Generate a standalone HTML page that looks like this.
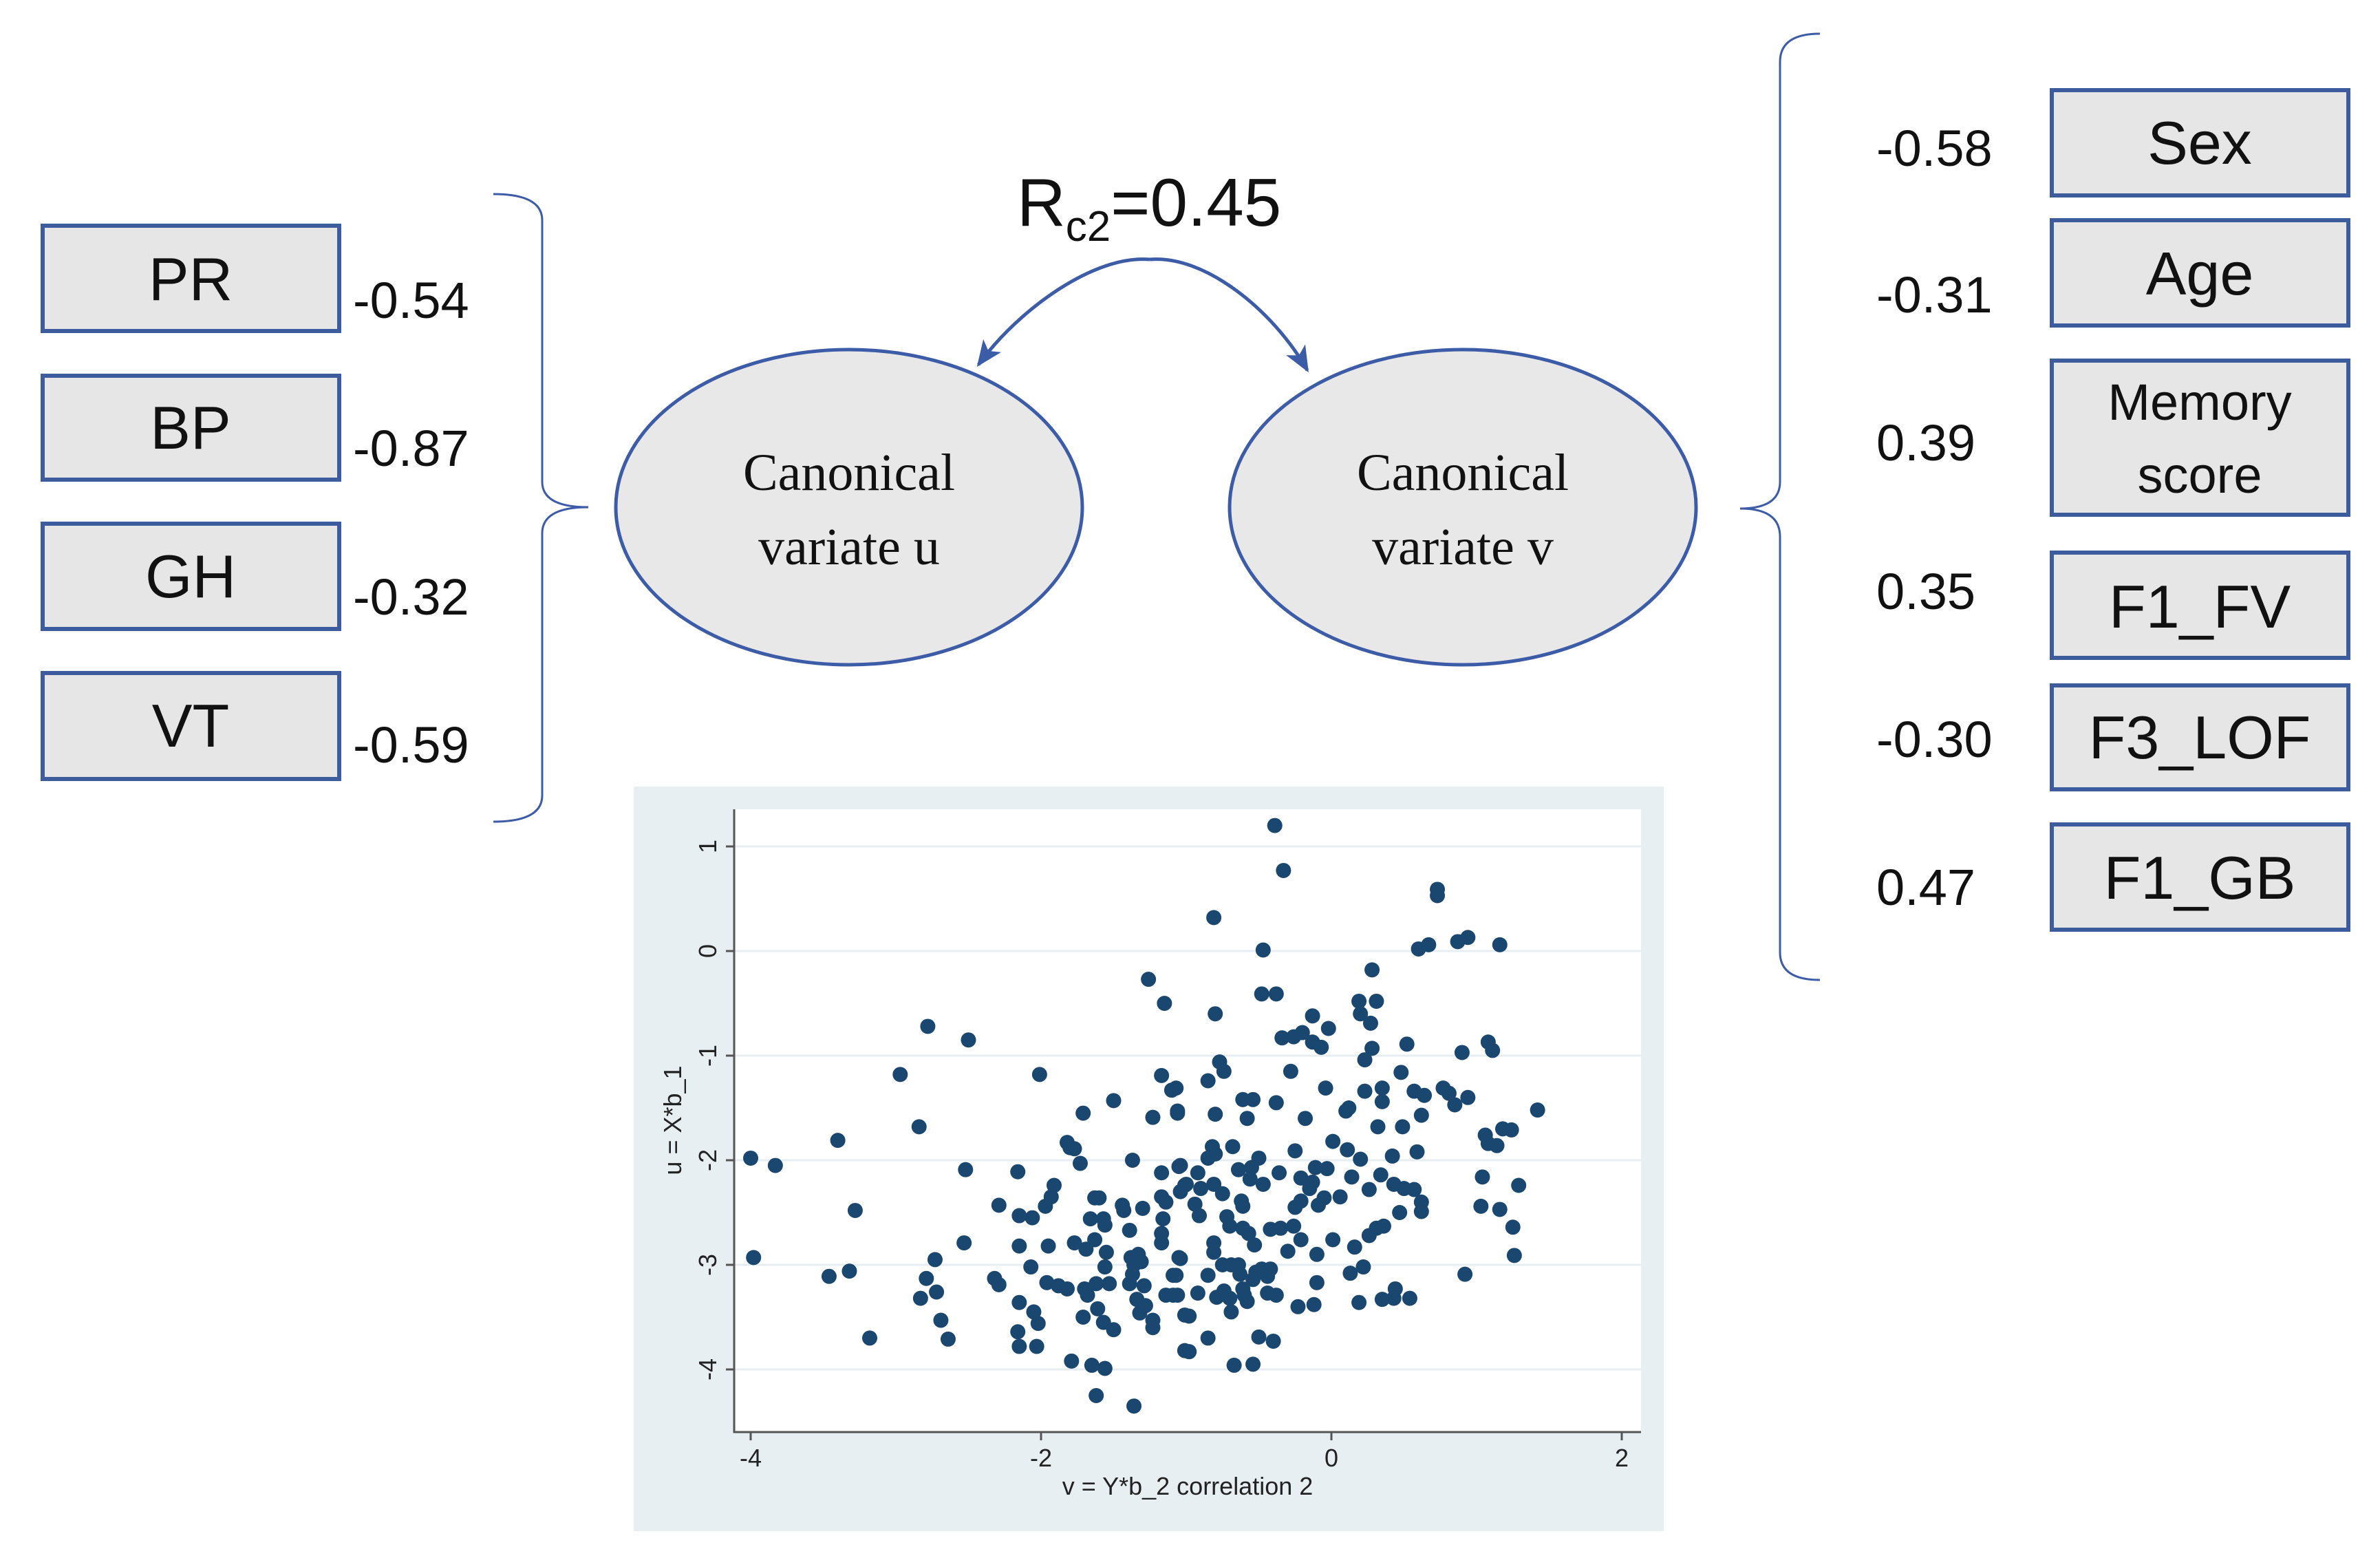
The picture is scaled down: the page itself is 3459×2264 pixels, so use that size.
<!DOCTYPE html>
<html><head><meta charset="utf-8"><style>
html,body{margin:0;padding:0;background:#fff;}
svg{display:block;}
.box{fill:#e6e6e6;stroke:#3d5c9e;stroke-width:6;}
.lbl{font-family:"Liberation Sans",sans-serif;font-size:88px;fill:#111;text-anchor:middle;}
.val{font-family:"Liberation Sans",sans-serif;font-size:74px;fill:#111;}
.ell{fill:#e8e8e8;stroke:#3d5ca8;stroke-width:5;}
.etx{font-family:"Liberation Serif",serif;font-size:76px;fill:#111;text-anchor:middle;}
.tick{font-family:"Liberation Sans",sans-serif;font-size:36px;fill:#222;}
</style></head><body>
<svg id="fig" width="3459" height="2264" viewBox="0 0 3459 2264" xmlns="http://www.w3.org/2000/svg">
<defs>
<marker id="ah" markerWidth="38" markerHeight="32" refX="9" refY="5" orient="auto" markerUnits="userSpaceOnUse" viewBox="0 0 10 10" preserveAspectRatio="none">
<path d="M0,0 L10,5 L0,10 L2.5,5 z" fill="#3d5ca8"/></marker>
</defs>
<g>
<rect class="box" x="62" y="328" width="431" height="153"/>
<text class="lbl" x="277" y="436">PR</text>
<text class="val" x="513" y="462">-0.54</text>
<rect class="box" x="62" y="546" width="431" height="151"/>
<text class="lbl" x="277" y="652">BP</text>
<text class="val" x="513" y="677">-0.87</text>
<rect class="box" x="62" y="761" width="431" height="153"/>
<text class="lbl" x="277" y="868">GH</text>
<text class="val" x="513" y="893">-0.32</text>
<rect class="box" x="62" y="978" width="431" height="154"/>
<text class="lbl" x="277" y="1085">VT</text>
<text class="val" x="513" y="1108">-0.59</text>
</g>
<path d="M717,282 Q788,282 788,320 L788,700 Q788,737 855,737 Q788,737 788,775 L788,1156 Q788,1194 717,1194" fill="none" stroke="#3d5ca8" stroke-width="3"/>
<path d="M2645,49 Q2587,49 2587,90 L2587,700 Q2587,739 2529,739 Q2587,739 2587,780 L2587,1384 Q2587,1424 2645,1424" fill="none" stroke="#3d5ca8" stroke-width="3"/>
<ellipse class="ell" cx="1234" cy="737" rx="339" ry="229"/>
<text class="etx" x="1234" y="712">Canonical</text>
<text class="etx" x="1234" y="820">variate u</text>
<ellipse class="ell" cx="2126" cy="737" rx="339" ry="229"/>
<text class="etx" x="2126" y="712">Canonical</text>
<text class="etx" x="2126" y="820">variate v</text>
<path d="M1671,377 C1590,370 1480,450 1422,530" fill="none" stroke="#3d5ca8" stroke-width="5" marker-end="url(#ah)"/>
<path d="M1671,377 C1750,370 1850,450 1900,538" fill="none" stroke="#3d5ca8" stroke-width="5" marker-end="url(#ah)"/>
<text x="1478" y="328" font-family="Liberation Sans, sans-serif" font-size="98" fill="#111">R<tspan font-size="62" dy="22">c2</tspan><tspan dy="-22">=0.45</tspan></text>
<g>
<rect class="box" x="2982" y="131" width="431" height="153"/>
<text class="lbl" x="3197" y="238">Sex</text>
<text class="val" x="2727" y="241">-0.58</text>
<rect class="box" x="2982" y="320" width="431" height="153"/>
<text class="lbl" x="3197" y="428">Age</text>
<text class="val" x="2727" y="454">-0.31</text>
<rect class="box" x="2982" y="524" width="431" height="224"/>
<text class="lbl" x="3197" y="610" style="font-size:74px">Memory</text>
<text class="lbl" x="3197" y="716" style="font-size:74px">score</text>
<text class="val" x="2727" y="669">0.39</text>
<rect class="box" x="2982" y="803" width="431" height="153"/>
<text class="lbl" x="3197" y="912">F1_FV</text>
<text class="val" x="2727" y="885">0.35</text>
<rect class="box" x="2982" y="996" width="431" height="151"/>
<text class="lbl" x="3197" y="1102">F3_LOF</text>
<text class="val" x="2727" y="1100">-0.30</text>
<rect class="box" x="2982" y="1198" width="431" height="153"/>
<text class="lbl" x="3197" y="1306">F1_GB</text>
<text class="val" x="2727" y="1315">0.47</text>
</g>
<g id="scatter">
<rect x="921" y="1143" width="1497" height="1082" fill="#e8eff2"/>
<rect x="1067" y="1176" width="1318" height="905" fill="#ffffff"/>
</g>
</svg>
<script>
const vVals=[-4.0,-3.98,-3.83,-3.46,-3.32,-3.40,-3.28,-3.18,-2.97,-2.84,-2.78,-2.50,-2.52,-2.53,-2.73,-2.79,-2.72,-2.83,-2.69,-2.64,-2.32,-2.29,-2.29,-2.16,-2.15,-2.06,-2.15,-2.07,-2.15,-2.05,-2.02,-2.16,-2.15,-2.03,-2.01,-1.96,-1.95,-1.97,-1.93,-1.91,-1.88,-1.82,-1.82,-1.80,-1.77,-1.73,-1.71,-1.77,-1.79,-1.65,-1.56,-1.62,-1.36,-1.71,-1.70,-1.68,-1.62,-1.61,-1.57,-1.50,-1.69,-1.63,-1.66,-1.63,-1.60,-1.57,-1.56,-1.55,-1.56,-1.53,-1.50,-1.44,-1.43,-1.39,-1.37,-1.38,-1.36,-1.33,-1.31,-1.39,-1.37,-1.34,-1.29,-1.32,-1.28,-1.23,-1.23,-1.30,-1.26,-1.15,-1.17,-1.10,-1.06,-1.23,-1.17,-1.05,-1.17,-1.14,-1.16,-1.17,-1.17,-1.05,-1.09,-1.14,-1.09,-1.01,-1.01,-1.04,-1.01,
-0.39,-0.33,-0.81,-0.47,-0.48,-0.38,-0.80,-0.13,-0.02,-0.34,-0.26,-0.20,-0.13,-0.07,0.19,0.31,0.20,0.27,0.28,0.28,0.23,0.60,0.67,0.73,0.73,0.87,0.94,1.16,0.52,0.90,1.08,1.11,-0.77,-0.74,-0.85,-0.28,-0.04,0.23,0.35,0.35,0.48,0.57,0.64,0.77,0.81,0.85,0.94,0.62,0.10,0.12,-1.07,-1.06,-0.80,-0.61,-0.54,-0.58,-0.38,-0.18,0.32,0.49,0.01,0.11,0.20,0.42,0.59,1.06,1.08,1.14,1.18,1.24,1.42,1.04,1.29,1.03,1.16,1.25,1.26,0.92,-0.82,-0.80,-0.68,-0.85,-0.50,-0.55,-0.64,-0.25,-0.36,-0.11,-0.03,-1.04,-0.92,-1.00,-0.81,-0.90,-0.75,-0.56,-0.47,-0.21,-0.13,-0.15,-0.21,-0.25,-0.05,-0.09,0.06,0.14,0.26,0.34,0.43,0.50,0.57,0.62,0.62,0.47,-0.62,-0.61,-0.94,-0.91,-0.72,-0.70,-0.61,-0.57,-0.53,-0.81,-0.81,-0.42,-0.35,-0.26,-0.21,-0.30,0.01,-0.10,0.16,0.26,0.31,0.36,-1.04,-0.75,-0.69,-0.64,-0.63,-0.85,-1.07,-0.52,-0.48,-0.42,-0.54,-0.44,-0.10,0.13,0.22,-0.61,-0.60,-0.58,-0.74,-0.79,-0.70,-0.92,-1.06,-0.44,-0.38,-0.69,-0.98,-0.23,-0.12,0.19,0.35,0.44,0.43,0.54,-0.85,-0.98,-0.50,-0.40,-0.67,-0.54];
const uVals=[-1.98,-2.93,-2.05,-3.11,-3.06,-1.81,-2.48,-3.70,-1.18,-1.68,-0.72,-0.85,-2.09,-2.79,-2.95,-3.13,-3.26,-3.32,-3.53,-3.71,-3.13,-3.19,-2.43,-2.11,-2.53,-2.55,-2.82,-3.02,-3.36,-3.45,-3.56,-3.64,-3.78,-3.78,-1.18,-3.17,-2.82,-2.44,-2.35,-2.24,-3.20,-3.23,-1.83,-1.88,-1.89,-2.03,-1.55,-2.79,-3.92,-3.96,-3.99,-4.25,-4.35,-3.50,-3.23,-3.29,-3.18,-3.42,-3.55,-3.62,-2.85,-2.76,-2.56,-2.36,-2.36,-2.56,-2.62,-2.88,-3.02,-3.18,-1.43,-2.43,-2.48,-2.67,-2.00,-2.93,-3.00,-2.90,-2.97,-3.18,-3.09,-3.33,-3.20,-3.46,-3.39,-3.53,-3.60,-2.46,-0.27,-0.50,-1.19,-1.33,-1.55,-1.59,-2.12,-2.06,-2.35,-2.40,-2.56,-2.70,-2.79,-2.93,-3.10,-3.29,-3.29,-3.82,-3.48,-2.30,-2.24,
1.20,0.77,0.32,0.01,-0.41,-0.41,-0.60,-0.62,-0.74,-0.83,-0.82,-0.78,-0.87,-0.92,-0.48,-0.48,-0.60,-0.69,-0.18,-0.93,-1.04,0.02,0.06,0.59,0.53,0.09,0.13,0.06,-0.89,-0.97,-0.87,-0.95,-1.06,-1.15,-1.24,-1.15,-1.31,-1.34,-1.31,-1.44,-1.16,-1.34,-1.38,-1.31,-1.36,-1.47,-1.40,-1.57,-1.53,-1.50,-1.31,-1.53,-1.56,-1.42,-1.42,-1.60,-1.45,-1.60,-1.68,-1.68,-1.82,-1.90,-1.99,-1.96,-1.92,-1.76,-1.84,-1.86,-1.70,-1.71,-1.52,-2.16,-2.24,-2.44,-2.47,-2.64,-2.91,-3.09,-1.87,-1.94,-1.87,-1.98,-1.98,-2.07,-2.09,-1.91,-2.12,-2.07,-2.08,-2.05,-2.12,-2.23,-2.23,-2.27,-2.32,-2.18,-2.23,-2.17,-2.21,-2.27,-2.39,-2.45,-2.36,-2.43,-2.35,-2.16,-2.28,-2.14,-2.23,-2.27,-2.28,-2.40,-2.49,-2.50,-2.39,-2.44,-2.42,-2.53,-2.54,-2.63,-2.65,-2.70,-2.81,-2.79,-2.88,-2.66,-2.65,-2.63,-2.76,-2.87,-2.76,-2.90,-2.83,-2.72,-2.65,-2.63,-2.94,-3.00,-3.00,-3.00,-3.09,-3.10,-3.10,-3.07,-3.04,-3.04,-3.14,-3.11,-3.17,-3.08,-3.02,-3.23,-3.29,-3.35,-3.25,-3.31,-3.32,-3.27,-3.29,-3.27,-3.29,-3.45,-3.49,-3.40,-3.38,-3.36,-3.33,-3.23,-3.32,-3.32,-3.70,-3.83,-3.69,-3.73,-3.96,-3.95];
const xTicks=[-4,-2,0,2];
const yTicks=[1,0,-1,-2,-3,-4];
const xTitle="v = Y*b_2 correlation 2";
const yTitle="u = X*b_1";

const NS="http://www.w3.org/2000/svg";
const g=document.getElementById('scatter');
const X0=1935, XU=211, Y0=1382, YU=152;
const L=1067,R=2385,T=1176,B=2081;
function sx(v){return X0+v*XU;}
function sy(u){return Y0-u*YU;}
function mk(tag,attrs){const e=document.createElementNS(NS,tag);for(const k in attrs)e.setAttribute(k,attrs[k]);g.appendChild(e);return e;}
yTicks.forEach(t=>{
  const ln=mk('line',{x1:L,x2:R,y1:sy(t),y2:sy(t),stroke:'#e6eef1','stroke-width':3});
  
  
  const tk=mk('line',{x1:L-12,x2:L,y1:sy(t),y2:sy(t),stroke:'#555','stroke-width':3});
  
  
  const tx=mk('text',{x:L-26,y:sy(t),class:'tick','text-anchor':'middle',transform:'rotate(-90 '+(L-26)+' '+sy(t)+')'});
  tx.textContent=t;
  
  
});
xTicks.forEach(t=>{
  const tk=mk('line',{x1:sx(t),x2:sx(t),y1:B,y2:B+12,stroke:'#555','stroke-width':3});
  
  
  const tx=mk('text',{x:sx(t),y:B+50,class:'tick','text-anchor':'middle'});
  tx.textContent=t;
  
  
});
const ax=mk('path',{d:'M'+L+','+T+' L'+L+','+B+' L'+R+','+B,fill:'none',stroke:'#555','stroke-width':3});


const xt=mk('text',{x:1726,y:2172,class:'tick','text-anchor':'middle'});
xt.textContent=xTitle;


const yt=mk('text',{x:990,y:1628,class:'tick','text-anchor':'middle',transform:'rotate(-90 990 1628)'});
yt.textContent=yTitle;


for(let i=0;i<vVals.length;i++){
  const c=mk('circle',{cx:sx(vVals[i]),cy:sy(uVals[i]),r:11,fill:'#1a476f'});
  
  
}
</script>
</body></html>
